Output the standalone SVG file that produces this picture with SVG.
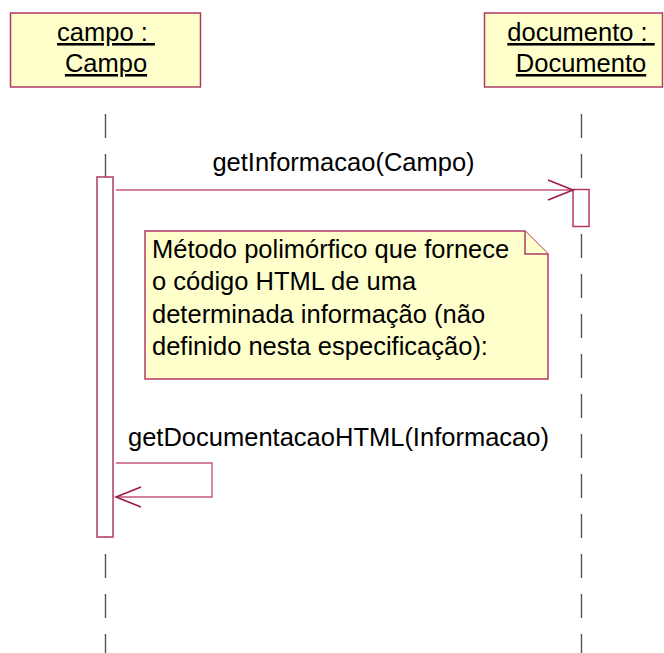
<svg xmlns="http://www.w3.org/2000/svg" width="664" height="653" viewBox="0 0 664 653">
<style>
.box{fill:#ffffcc;stroke:#b03a62;stroke-width:1.5}
.txt{font-family:"Liberation Sans",Arial,sans-serif;font-size:25.5px;fill:#000}
.ul{text-decoration:underline}
.life{stroke:#555;stroke-width:1.4;stroke-dasharray:24 16;fill:none}
.act{fill:#ffffff;stroke:#b03a62;stroke-width:1.5}
.msg{stroke:#c2577a;stroke-width:1.4;fill:none}
.head{stroke:#a01a45;stroke-width:1.6;fill:none}
</style>
<rect width="664" height="653" fill="#ffffff"/>
<g id="lifelines">
<line class="life" x1="105.5" y1="114" x2="105.5" y2="653"/>
<line class="life" x1="581.5" y1="114" x2="581.5" y2="653"/>
</g>
<g id="campo">
<rect class="box" x="10.5" y="13" width="190" height="74"/>
<text class="txt ul" x="106" y="41" text-anchor="middle" xml:space="preserve">campo : </text>
<text class="txt ul" x="106" y="72" text-anchor="middle">Campo</text>
</g>
<g id="documento">
<rect class="box" x="484.5" y="13" width="178" height="74"/>
<text class="txt ul" x="581" y="41" text-anchor="middle" xml:space="preserve">documento : </text>
<text class="txt ul" x="581" y="72" text-anchor="middle">Documento</text>
</g>
<g id="act-campo">
<rect class="act" x="97" y="177" width="16" height="360"/>
</g>
<g id="act-documento">
<rect class="act" x="573" y="189.5" width="16" height="37"/>
</g>
<g id="nota">
<path class="box" d="M145,231 H525 L548,254 V379 H145 Z"/>
<path class="box" d="M525,231 V254 H548" fill="none"/>
<text class="txt" x="152" y="258">Método polimórfico que fornece</text>
<text class="txt" x="152" y="290">o código HTML de uma</text>
<text class="txt" x="152" y="323">determinada informação (não</text>
<text class="txt" x="152" y="355">definido nesta especificação):</text>
</g>
<g id="connectors">
<line class="msg" x1="116" y1="190" x2="572" y2="190"/>
<polyline class="head" points="548,180 573,190 548,200"/>
<text class="txt" x="343.5" y="171" text-anchor="middle">getInformacao(Campo)</text>
<polyline class="msg" points="116,463 212,463 212,497 116,497"/>
<polyline class="head" points="141,487 116,497 141,507"/>
<text class="txt" x="128" y="446">getDocumentacaoHTML(Informacao)</text>
</g>
</svg>
